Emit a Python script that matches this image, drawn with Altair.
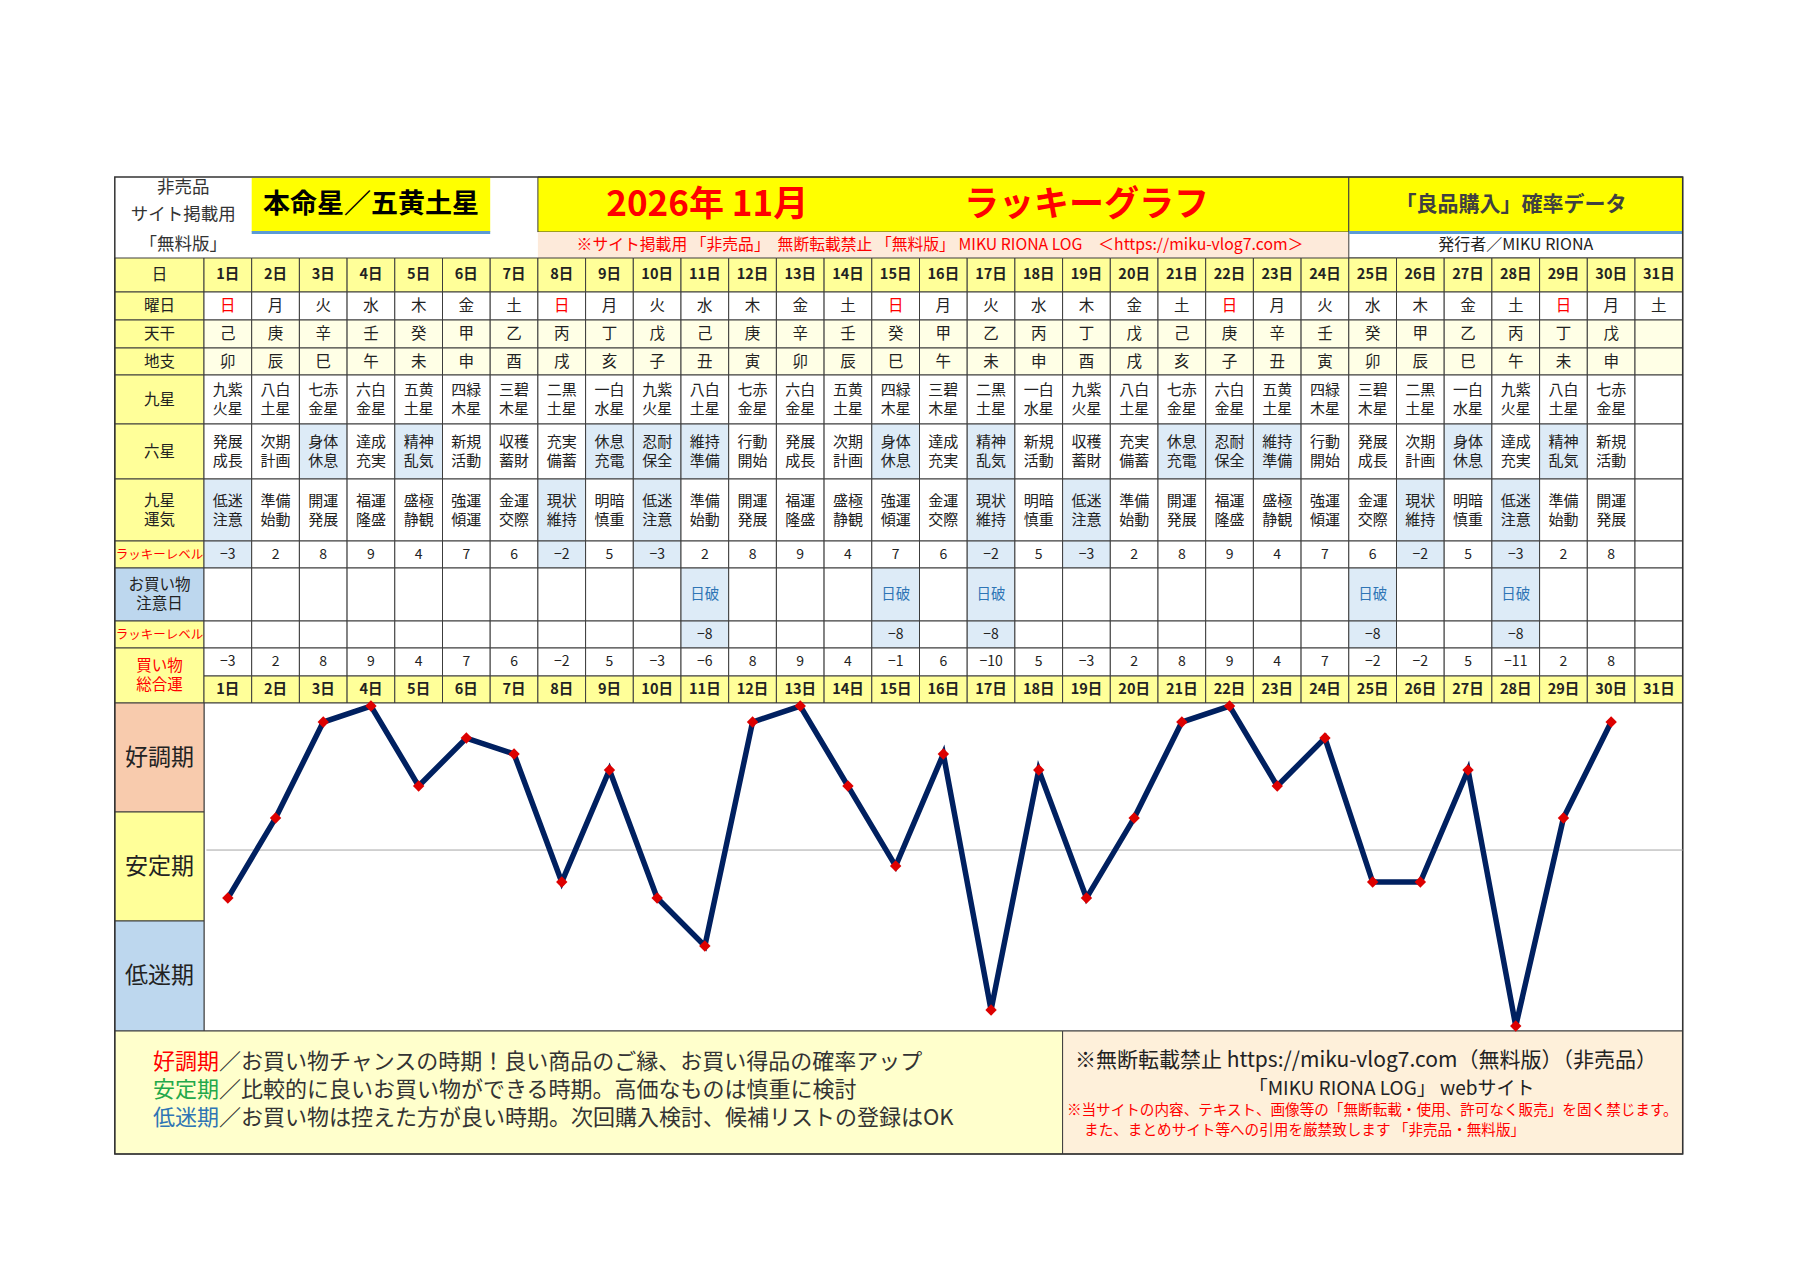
import altair as alt
import pandas as pd

# ---------------- data ----------------
days = list(range(1, 32))
day_labels = [f"{d}日" for d in days]
weekday = ["日", "月", "火", "水", "木", "金", "土", "日", "月", "火", "水", "木", "金", "土",
           "日", "月", "火", "水", "木", "金", "土", "日", "月", "火", "水", "木", "金", "土",
           "日", "月", "土"]
tenkan = ["己", "庚", "辛", "壬", "癸", "甲", "乙", "丙", "丁", "戊",
          "己", "庚", "辛", "壬", "癸", "甲", "乙", "丙", "丁", "戊",
          "己", "庚", "辛", "壬", "癸", "甲", "乙", "丙", "丁", "戊", ""]
chishi = ["卯", "辰", "巳", "午", "未", "申", "酉", "戌", "亥", "子", "丑", "寅",
          "卯", "辰", "巳", "午", "未", "申", "酉", "戌", "亥", "子", "丑", "寅",
          "卯", "辰", "巳", "午", "未", "申", ""]
kyusei = ["九紫火星", "八白土星", "七赤金星", "六白金星", "五黄土星", "四緑木星", "三碧木星", "二黒土星", "一白水星",
          "九紫火星", "八白土星", "七赤金星", "六白金星", "五黄土星", "四緑木星", "三碧木星", "二黒土星", "一白水星",
          "九紫火星", "八白土星", "七赤金星", "六白金星", "五黄土星", "四緑木星", "三碧木星", "二黒土星", "一白水星",
          "九紫火星", "八白土星", "七赤金星", ""]
rokusei = ["発展成長", "次期計画", "身体休息", "達成充実", "精神乱気", "新規活動", "収穫蓄財", "充実備蓄",
           "休息充電", "忍耐保全", "維持準備", "行動開始",
           "発展成長", "次期計画", "身体休息", "達成充実", "精神乱気", "新規活動", "収穫蓄財", "充実備蓄",
           "休息充電", "忍耐保全", "維持準備", "行動開始",
           "発展成長", "次期計画", "身体休息", "達成充実", "精神乱気", "新規活動", ""]
unki = ["低迷注意", "準備始動", "開運発展", "福運隆盛", "盛極静観", "強運傾運", "金運交際", "現状維持", "明暗慎重",
        "低迷注意", "準備始動", "開運発展", "福運隆盛", "盛極静観", "強運傾運", "金運交際", "現状維持", "明暗慎重",
        "低迷注意", "準備始動", "開運発展", "福運隆盛", "盛極静観", "強運傾運", "金運交際", "現状維持", "明暗慎重",
        "低迷注意", "準備始動", "開運発展", ""]
lucky = [-3, 2, 8, 9, 4, 7, 6, -2, 5, -3, 2, 8, 9, 4, 7, 6, -2, 5,
         -3, 2, 8, 9, 4, 7, 6, -2, 5, -3, 2, 8, None]
caution = ["", "", "", "", "", "", "", "", "", "", "日破", "", "", "", "日破", "", "日破", "",
           "", "", "", "", "", "", "日破", "", "", "日破", "", "", ""]
lucky2 = [None, None, None, None, None, None, None, None, None, None, -8, None, None, None, -8, None, -8, None,
          None, None, None, None, None, None, -8, None, None, -8, None, None, None]
total = [-3, 2, 8, 9, 4, 7, 6, -2, 5, -3, -6, 8, 9, 4, -1, 6, -10, 5,
         -3, 2, 8, 9, 4, 7, -2, -2, 5, -11, 2, 8]
row_labels = ["日", "曜日", "天干", "地支", "九星", "六星", "九星\n運気", "ラッキーレベル",
              "お買い物\n注意日", "ラッキーレベル"]
total_label = "買い物\n総合運"
zone_labels = ["好調期", "安定期", "低迷期"]
title_left = "本命星／五黄土星"
title_month = "2026年 11月"
title_graph = "ラッキーグラフ"
title_right = "「良品購入」確率データ"
subtitle = "※サイト掲載用 「非売品」　無断転載禁止 「無料版」 MIKU RIONA LOG　＜https://miku-vlog7.com＞"
publisher = "発行者／MIKU RIONA"
corner_lines = ["非売品", "サイト掲載用", "「無料版」"]
legend_heads = ["好調期", "安定期", "低迷期"]
legend_texts = ["／お買い物チャンスの時期！良い商品のご縁、お買い得品の確率アップ",
                "／比較的に良いお買い物ができる時期。高価なものは慎重に検討",
                "／お買い物は控えた方が良い時期。次回購入検討、候補リストの登録はOK"]
note_lines = ["※無断転載禁止  https://miku-vlog7.com（無料版）（非売品）",
              "「MIKU RIONA LOG」 webサイト",
              "※当サイトの内容、テキスト、画像等の「無断転載・使用、許可なく販売」を固く禁じます。",
              "また、まとめサイト等への引用を厳禁致します 「非売品・無料版」"]

# ---------------- layout & style ----------------
FONT = "Noto Sans CJK JP"
W, H = 1784, 1256
COL_X0, COL_W = 204.0, 47.7          # page px of first day column, column width
LBL_L = -1.87                         # label column left edge (column units)
XS = alt.Scale(domain=[(8 - COL_X0) / COL_W, (8 + W - COL_X0) / COL_W], nice=False, zero=False)
YS = alt.Scale(domain=[8, 8 + H], reverse=True, nice=False, zero=False)
TOP, T_BOT, SUB_BOT = 177, 232, 258
ROW_EDGES = [258, 292, 320, 348, 375, 424, 479, 541, 568, 621, 648, 676, 703]
G_TOP, G_BOT = 703, 1031
ZONE_EDGES = [703, 812, 921, 1031]
F_BOT = 1154
FOOT_DIV = 18
LH = 19
GYS = alt.Scale(domain=[-11.31, 9.19], range=[G_BOT - 8, G_TOP - 8], nice=False, zero=False)

YEL = "#FFFF99"
PALE = "#FFFFE6"
BLUE_LT = "#DDEBF7"
BLUE_LBL = "#BDD7EE"
LINE = "#3c3c3c"
RED = "#FF0000"
INK = "#222222"
BLUE_SET6 = {"身体休息", "精神乱気", "休息充電", "忍耐保全", "維持準備"}
BLUE_SET9 = {"低迷注意", "現状維持"}
CELL_FS = 15


def fmt(v):
    return "" if v is None else str(v).replace("-", "−")


def two(s):
    return s[:2] + "\n" + s[2:] if s else ""


rects = []


def R(x0, x1, y0, y1, fill, stroke="transparent", sw=0.0):
    rects.append(dict(x0=x0, x1=x1, y0=y0, y1=y1, fill=fill, stroke=stroke, sw=sw))


norm, bold = [], []


def T(lst, x, y, text, color=INK, size=15):
    """Add a text; a two-line text becomes two single-line entries."""
    lines = text.split("\n")
    n = len(lines)
    for j, ln in enumerate(lines):
        lst.append(dict(x=x, y=y + (j - (n - 1) / 2) * LH, text=ln, color=color, size=size))


# header
R(1, 6, TOP + 1, T_BOT, "#FFFF00")
R(7, 24, TOP, T_BOT, "#FFFF00", LINE, 1)
R(24, 31, TOP, T_BOT, "#FFFF00", LINE, 1)
R(7, 24, T_BOT, SUB_BOT, "#FDEADA")
R(24, 31, T_BOT, SUB_BOT, "#FFFFFF", LINE, 1)
R(1, 6, T_BOT - 1, T_BOT + 2, "#5B9BD5")
R(24, 31, T_BOT - 1, T_BOT + 2, "#5B9BD5")
for i, s in enumerate(corner_lines):
    T(norm, (LBL_L + 1) / 2, [188, 215, 245][i], s, "#333333", 17.5)
T(bold, 3.5, 205, title_left, "#000000", 27)
T(bold, 10.55, 205, title_month, RED, 35)
T(bold, 18.5, 205, title_graph, RED, 35)
T(bold, 27.4, 205, title_right, "#404040", 21)
T(norm, 15.43, 245, subtitle, RED, 15.8)
T(norm, 27.5, 245, publisher, "#222222", 16)

# table label column
lab_x = LBL_L / 2
for r, lab in enumerate(row_labels):
    y0, y1 = ROW_EDGES[r], ROW_EDGES[r + 1]
    R(LBL_L, 0, y0, y1, BLUE_LBL if r == 8 else YEL, LINE, 1)
    if "ラッキー" in lab:
        T(norm, lab_x, (y0 + y1) / 2, lab, RED, 12.5)
    else:
        T(norm, lab_x, (y0 + y1) / 2, lab, INK, CELL_FS + 0.5)
R(LBL_L, 0, ROW_EDGES[10], ROW_EDGES[12], YEL, LINE, 1)
T(norm, lab_x, (ROW_EDGES[10] + ROW_EDGES[12]) / 2, total_label, RED, CELL_FS + 0.5)

# table day cells
for i, d in enumerate(days):
    xc = d - 0.5
    rows = [
        (YEL, day_labels[i], INK, 14.5, True),
        ("#FFFFFF", weekday[i], RED if weekday[i] == "日" else INK, CELL_FS + 0.5, False),
        (PALE, tenkan[i], INK, CELL_FS + 0.5, False),
        (PALE, chishi[i], INK, CELL_FS + 0.5, False),
        ("#FFFFFF", two(kyusei[i]), INK, CELL_FS, False),
        (BLUE_LT if rokusei[i] in BLUE_SET6 else "#FFFFFF", two(rokusei[i]), INK, CELL_FS, False),
        (BLUE_LT if unki[i] in BLUE_SET9 else "#FFFFFF", two(unki[i]), INK, CELL_FS, False),
        (BLUE_LT if (lucky[i] is not None and lucky[i] < 0) else "#FFFFFF", fmt(lucky[i]), INK, 14, False),
        (BLUE_LT if caution[i] else "#FFFFFF", caution[i], "#2E75B6", 14.5, False),
        (BLUE_LT if lucky2[i] is not None else "#FFFFFF", fmt(lucky2[i]), INK, 14, False),
        ("#FFFFFF", fmt(total[i]) if i < len(total) else "", INK, 14, False),
        (YEL, day_labels[i], INK, 14.5, True),
    ]
    for r, (fill, txt, col, size, isb) in enumerate(rows):
        y0, y1 = ROW_EDGES[r], ROW_EDGES[r + 1]
        R(d - 1, d, y0, y1, fill, LINE, 1)
        if txt:
            T(bold if isb else norm, xc, (y0 + y1) / 2, txt, col, size)

# graph area
R(0, 31, G_TOP, G_BOT, "#FFFFFF", LINE, 1)
zone_fills = ["#F8CBAD", YEL, BLUE_LBL]
for k, z in enumerate(zone_labels):
    y0, y1 = ZONE_EDGES[k], ZONE_EDGES[k + 1]
    R(LBL_L, 0, y0, y1, zone_fills[k], LINE, 1)
    T(norm, lab_x, (y0 + y1) / 2, z, "#222222", 23)

# footer
R(LBL_L, FOOT_DIV, G_BOT, F_BOT, "#FFFFCC", LINE, 1)
R(FOOT_DIV, 31, G_BOT, F_BOT, "#FEF0DA", LINE, 1)
# outer border
R(LBL_L, 31, TOP, F_BOT, "transparent", "#333333", 1.5)

FOOT_FS = 22
FOOT_X = -1.07
foot_notes_left = []
head_cols = [RED, "#22A84A", "#2F75B5"]
for k in range(3):
    y = [1062, 1090, 1118][k]
    T(foot_notes_left, FOOT_X, y, legend_heads[k], head_cols[k], FOOT_FS)
    # continuation starts right after the 3-character colored head
    T(foot_notes_left, FOOT_X + 3 * FOOT_FS / COL_W, y, legend_texts[k], "#333333", FOOT_FS)
T(foot_notes_left, 18.26, 1061, note_lines[0], "#222222", 21)
T(foot_notes_left, 21.9, 1088.5, note_lines[1], "#222222", 19)
T(foot_notes_left, 18.09, 1110.5, note_lines[2], RED, 14.6)
T(foot_notes_left, 18.45, 1130.5, note_lines[3], RED, 14.6)


def rect_layer(rows):
    return alt.Chart(pd.DataFrame(rows)).mark_rect().encode(
        x=alt.X("x0:Q", scale=XS, axis=None), x2="x1:Q",
        y=alt.Y("y0:Q", scale=YS, axis=None), y2="y1:Q",
        fill=alt.Fill("fill:N", scale=None),
        stroke=alt.Stroke("stroke:N", scale=None),
        strokeWidth=alt.StrokeWidth("sw:Q", scale=None),
    )


def text_layer(rows, weight="normal", align="center"):
    return alt.Chart(pd.DataFrame(rows)).mark_text(
        font=FONT, fontWeight=weight, align=align, baseline="middle",
    ).encode(
        x=alt.X("x:Q", scale=XS, axis=None),
        y=alt.Y("y:Q", scale=YS, axis=None),
        text="text:N",
        color=alt.Color("color:N", scale=None),
        size=alt.Size("size:Q", scale=None),
    )


table = alt.layer(
    rect_layer(rects),
    text_layer(norm),
    text_layer(bold, weight="bold"),
    text_layer(foot_notes_left, align="left"),
)

graph_df = pd.DataFrame({"day": days[:len(total)], "total": total})
gx = alt.X("xc:Q", scale=XS, axis=None)
gy = alt.Y("total:Q", scale=GYS, axis=None)
zero_rule = alt.Chart(pd.DataFrame({"z": [0]})).mark_rule(color="#A6A6A6", strokeWidth=1).encode(
    x=alt.X(datum=0.05, scale=XS, axis=None), x2=alt.X2(datum=31),
    y=alt.Y("z:Q", scale=GYS, axis=None),
)
line = alt.Chart(graph_df).transform_calculate(xc="datum.day - 0.5").mark_line(
    color="#002060", strokeWidth=5.5).encode(x=gx, y=gy)
pts = alt.Chart(graph_df).transform_calculate(xc="datum.day - 0.5").mark_point(
    shape="diamond", filled=True, size=130, color="#DD0000", opacity=1).encode(x=gx, y=gy)
graph = alt.layer(zero_rule, line, pts)

chart = alt.layer(table, graph).resolve_scale(y="independent").properties(
    width=W, height=H, padding=0, background="#FFFFFF",
    autosize=alt.AutoSizeParams(type="none"),
).configure_view(stroke=None)

chart.save("out.html", embed_options={"renderer": "svg", "actions": False})
